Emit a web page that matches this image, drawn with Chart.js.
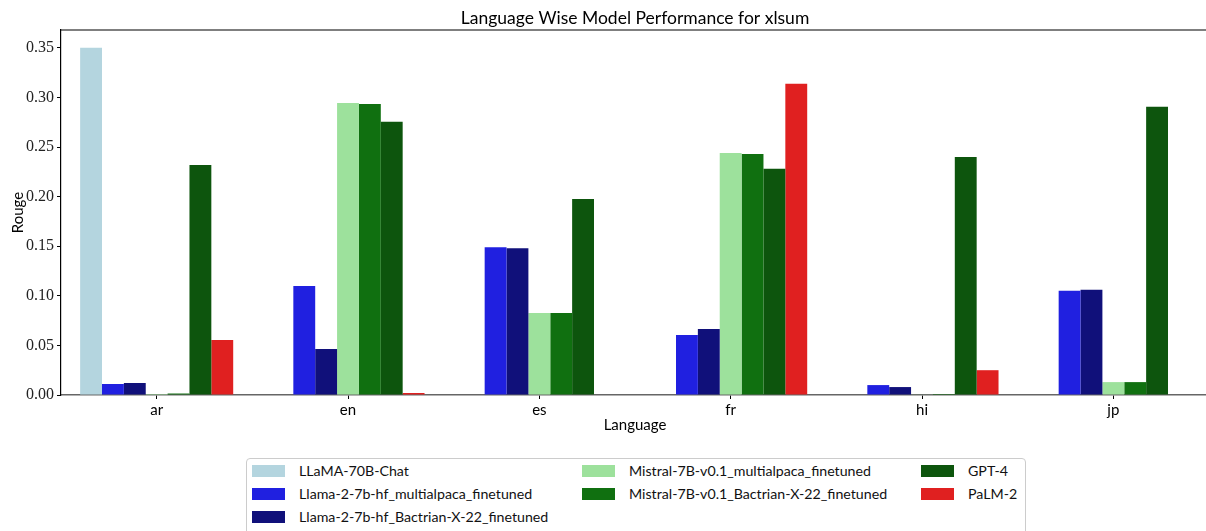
<!DOCTYPE html>
<html>
<head>
<meta charset="utf-8">
<script src="https://cdn.jsdelivr.net/npm/chart.js@4"></script>
<style>
  body { margin: 0; background: #fff; }
  #wrap { position: relative; width: 1206px; height: 531px; overflow: hidden; }
  #c { position: absolute; left: 0; top: 0; }
  #legend {
    position: absolute; left: 246px; top: 458px; width: 778px; height: 90px;
    border: 1px solid #cccccc; border-radius: 4px; background: #fff;
    font-family: Lato, "Open Sans", sans-serif; font-size: 14.2px; color: #111;
  }
  .item { position: absolute; height: 20px; line-height: 20px; white-space: nowrap; }
  .sw { position: absolute; left: 0; top: 4px; width: 33px; height: 12px; }
  .lbl { position: absolute; left: 47px; top: 0; }
</style>
</head>
<body>
<div id="wrap">
  <canvas id="c" width="1212" height="531"></canvas>
  <div id="legend"></div>
</div>
<script>
// languages on the x axis
let languages=['ar','en','es','fr','hi','jp'];
let yTicks=[0,0.05,0.10,0.15,0.20,0.25,0.30,0.35];
let chartTitle='Language Wise Model Performance for xlsum';

// rouge per model, one value per language
let llama70b   =[0.350,0,0,0,0,0];
let llamaMulti =[0.0111,0.110,0.149,0.0605,0.010,0.105];
let llamaBact  =[0.0121,0.0464,0.148,0.0666,0.008,0.106];
let mistralMulti=[0.001,0.2945,0.0827,0.244,0.0004,0.013];
let mistralBact =[0.0015,0.2935,0.0827,0.243,0.001,0.013];
let gpt4       =[0.232,0.2754,0.1977,0.228,0.240,0.2905];
let palm2      =[0.0555,0.002,0.0005,0.3137,0.025,0.0005];

let names=['LLaMA-70B-Chat','Llama-2-7b-hf_multialpaca_finetuned','Llama-2-7b-hf_Bactrian-X-22_finetuned',
  'Mistral-7B-v0.1_multialpaca_finetuned','Mistral-7B-v0.1_Bactrian-X-22_finetuned','GPT-4','PaLM-2'];
let series=[llama70b,llamaMulti,llamaBact,mistralMulti,mistralBact,gpt4,palm2];
let colors=['#b4d5df','#2020e0','#10107a','#9de19c','#107010','#0d550d','#e02020'];

let sans='Lato, "Open Sans", sans-serif';

let datasets=[];
series.forEach(function(vals,i){
  datasets.push({label:names[i],data:vals,backgroundColor:colors[i],borderWidth:0,
    categoryPercentage:0.8,barPercentage:1.0});
});

// top spine + title centred over the axes (matplotlib style)
let frame={
  id:'frame',
  afterDraw:function(chart){
    let a=chart.chartArea, ctx=chart.ctx;
    ctx.save();
    ctx.strokeStyle='#000';
    ctx.lineWidth=1.2;
    ctx.beginPath();
    ctx.moveTo(a.left,a.top);
    ctx.lineTo(a.right,a.top);
    ctx.stroke();
    ctx.fillStyle='#000';
    ctx.font='17.5px '+sans;
    ctx.textAlign='center';
    ctx.textBaseline='middle';
    ctx.fillText(chartTitle,(a.left+a.right)/2,18);
    ctx.restore();
  }
};

new Chart('c',{
  type:'bar',
  data:{labels:languages,datasets:datasets},
  options:{
    responsive:false,
    animation:false,
    layout:{padding:{left:0,right:3,top:30,bottom:93}},
    plugins:{
      legend:{display:false},
      tooltip:{enabled:false},
      title:{display:false}
    },
    scales:{
      x:{
        grid:{display:true,offset:false,drawOnChartArea:false,color:'#000',tickLength:4,tickWidth:1},
        border:{display:true,color:'#666',width:1.5},
        ticks:{color:'#000',font:{family:sans,size:15},padding:2},
        title:{display:true,text:'Language',color:'#000',font:{family:sans,size:15,lineHeight:1.2},padding:4},
        afterFit:function(s){s.height=43;}
      },
      y:{
        min:0,max:0.368,
        grid:{display:true,drawOnChartArea:false,color:'#000',tickLength:4,tickWidth:1},
        border:{display:true,color:'#000',width:1.2},
        ticks:{color:'#222',font:{family:'"Liberation Serif", serif',size:16},padding:3,
          callback:function(v){return Number(v).toFixed(2);}},
        afterBuildTicks:function(s){s.ticks=yTicks.map(function(v){return {value:v};});},
        title:{display:true,text:'Rouge',color:'#000',font:{family:sans,size:15,lineHeight:1.2},padding:9},
        afterFit:function(s){s.width=61;}
      }
    }
  },
  plugins:[frame]
});

// legend laid out in columns like the original
let legend=document.getElementById('legend');
let cols=[[0,1,2],[3,4],[5,6]];
let colX=[5,335,674];
let rowY=[2,25,48];
cols.forEach(function(col,ci){
  col.forEach(function(idx,ri){
    let d=document.createElement('div');
    d.className='item';
    d.style.left=colX[ci]+'px';
    d.style.top=rowY[ri]+'px';
    d.innerHTML='<span class="sw" style="background:'+colors[idx]+'"></span><span class="lbl">'+names[idx]+'</span>';
    legend.appendChild(d);
  });
});
</script>
</body>
</html>
